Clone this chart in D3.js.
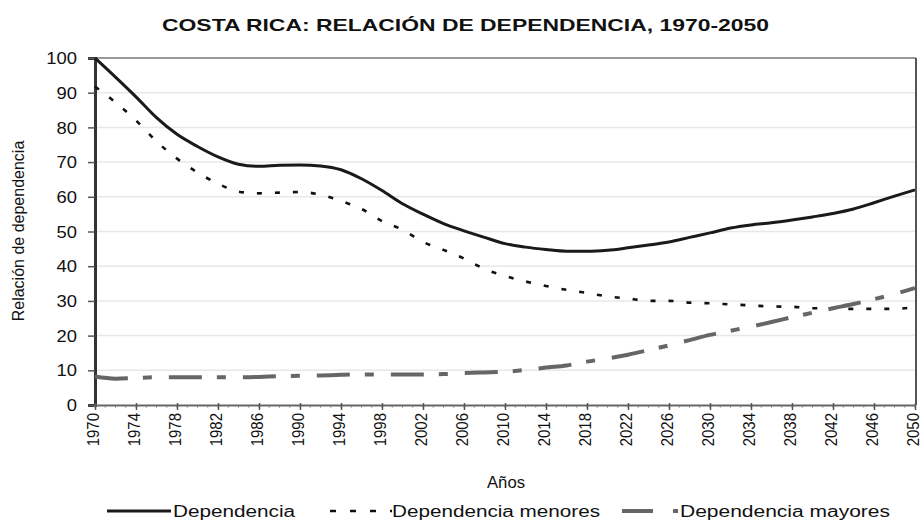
<!DOCTYPE html>
<html>
<head>
<meta charset="utf-8">
<script src="https://cdn.jsdelivr.net/npm/d3@7"></script>
<style>
  body { margin: 0; background: #fff; }
  svg text { font-family: "Liberation Sans", Arial, sans-serif; fill: #111; }
</style>
</head>
<body>
<svg id="chart" width="922" height="531"></svg>
<script>
// años cada 2, 1970-2050
const years = d3.range(1970, 2051, 2)

const dependencia = [100, 94.5, 88.8, 82.8, 78, 74.5, 71.5, 69.4, 68.8, 69.1,
  69.2, 68.9, 67.8, 65.2, 61.8, 58, 55, 52.3, 50.2, 48.3,
  46.5, 45.5, 44.8, 44.3, 44.3, 44.6, 45.3, 46.1, 47, 48.3,
  49.6, 51, 51.9, 52.5, 53.3, 54.2, 55.2, 56.5, 58.3, 60.2, 62]

const menores = [91.8, 87.2, 82, 76, 71, 67, 63.8, 61.5, 61, 61.2,
  61.4, 60.6, 58.8, 56.5, 53, 50.5, 47, 44.7, 42.2, 39.2,
  37.2, 35.6, 34.3, 33.2, 32.3, 31.3, 30.7, 30, 30, 29.5,
  29.3, 29, 28.7, 28.4, 28.3, 27.9, 27.8, 27.7, 27.7, 27.7, 28.2]

const mayores = [8.2, 7.6, 7.8, 8, 8, 8, 8, 8, 8.1, 8.3,
  8.4, 8.5, 8.7, 8.8, 8.8, 8.8, 8.8, 8.9, 9.2, 9.4,
  9.6, 10.1, 10.8, 11.4, 12.5, 13.4, 14.5, 15.8, 17.2, 18.7,
  20.2, 21.4, 22.6, 23.9, 25.3, 26.6, 27.9, 29.1, 30.5, 32, 33.7]

const yTicks = d3.range(0, 101, 10)
const xTicks = d3.range(1970, 2051, 4)

const series = [
  { name: "Dependencia", values: dependencia, color: "#1a1a1a", width: 3, dash: null, lenLabel: 122 },
  { name: "Dependencia menores", values: menores, color: "#111", width: 2.6, dash: "5,13", lenLabel: 208 },
  { name: "Dependencia mayores", values: mayores, color: "#666", width: 4, dash: "33,15,9,17", lenLabel: 210 }
]

const svg = d3.select("#chart")
const plotL = 95, plotR = 915, plotT = 58, plotB = 405
const sx = 1.15   // la imagen original está estirada en horizontal

const x = d3.scaleLinear().domain([1970, 2050]).range([plotL, plotR])
const y = d3.scaleLinear().domain([0, 100]).range([plotB, plotT])

// título
svg.append("text")
   .attr("x", 162).attr("y", 31)
   .attr("font-size", 17).attr("font-weight", "bold")
   .attr("textLength", 607).attr("lengthAdjust", "spacingAndGlyphs")
   .text("COSTA RICA: RELACIÓN DE DEPENDENCIA, 1970-2050")

// rejilla
svg.append("g").selectAll("line")
   .data(yTicks.filter(d => d > 0 && d < 100))
   .join("line")
   .attr("x1", plotL).attr("x2", plotR)
   .attr("y1", d => y(d)).attr("y2", d => y(d))
   .attr("stroke", "#e8e8e8").attr("stroke-width", 1.5)

// marco superior y derecho
svg.append("line").attr("x1", plotL).attr("x2", plotR + 1).attr("y1", plotT).attr("y2", plotT)
   .attr("stroke", "#777").attr("stroke-width", 1.5)
svg.append("line").attr("x1", plotR + 1).attr("x2", plotR + 1).attr("y1", plotT).attr("y2", plotB)
   .attr("stroke", "#555").attr("stroke-width", 2)

// eje y
const yAxis = svg.append("g")
   .attr("transform", "translate(" + plotL + ",0)")
   .call(d3.axisLeft(y).tickValues(yTicks).tickSize(7).tickPadding(0))
yAxis.select(".domain").attr("stroke", "#333").attr("stroke-width", 3)
yAxis.selectAll(".tick line").attr("stroke", "#555").attr("stroke-width", 1.5)
yAxis.selectAll(".tick text")
     .attr("font-size", 16).attr("fill", "#111")
     .attr("x", 0).attr("dy", "0.35em")
     .attr("transform", "translate(-18,0) scale(" + sx + ",1)")

// eje x: marcas menores cada año
svg.append("g").selectAll("line")
   .data(d3.range(1970, 2051))
   .join("line")
   .attr("x1", d => x(d)).attr("x2", d => x(d))
   .attr("y1", plotB).attr("y2", plotB + 3)
   .attr("stroke", "#aaa").attr("stroke-width", 1)

const xAxis = svg.append("g")
   .attr("transform", "translate(0," + plotB + ")")
   .call(d3.axisBottom(x).tickValues(xTicks).tickFormat(d3.format("d")).tickSizeInner(5).tickSizeOuter(0))
xAxis.select(".domain").attr("stroke", "#666").attr("stroke-width", 2)
xAxis.selectAll(".tick line").attr("stroke", "#555").attr("stroke-width", 1.5).attr("y1", -2)
xAxis.selectAll(".tick text")
     .attr("font-size", 15).attr("fill", "#111")
     .attr("x", 0).attr("y", 0).attr("dy", "0.3em")
     .attr("text-anchor", "end")
     .attr("transform", "translate(-1,8) scale(1.1,1) rotate(-90)")

// líneas
const line = d3.line()
   .x((d, i) => x(years[i]))
   .y(d => y(d))
   .curve(d3.curveMonotoneX)

series.forEach(s => {
  svg.append("path")
     .datum(s.values)
     .attr("d", line)
     .attr("fill", "none")
     .attr("stroke", s.color)
     .attr("stroke-width", s.width)
     .attr("stroke-dasharray", s.dash)
     .attr("stroke-linejoin", "round")
})

// títulos de ejes
svg.append("text")
   .attr("x", 487).attr("y", 488)
   .attr("font-size", 16)
   .attr("textLength", 38).attr("lengthAdjust", "spacingAndGlyphs")
   .text("Años")

svg.append("text")
   .attr("transform", "translate(24,231) rotate(-90)")
   .attr("text-anchor", "middle")
   .attr("font-size", 16)
   .text("Relación de dependencia")

// leyenda
const legendY = 511
const legendItems = [
  { s: series[0], x1: 107, x2: 171, tx: 173, dash: null, w: 3 },
  { s: series[1], x1: 330, x2: 392, tx: 392, dash: "6,14", w: 2.6 },
  { s: series[2], x1: 622, x2: 681, tx: 680, dash: "31,20,5", w: 4 }
]
legendItems.forEach(it => {
  svg.append("line")
     .attr("x1", it.x1).attr("x2", it.x2)
     .attr("y1", legendY).attr("y2", legendY)
     .attr("stroke", it.s.color).attr("stroke-width", it.w)
     .attr("stroke-dasharray", it.dash)
  svg.append("text")
     .attr("x", it.tx).attr("y", legendY + 6)
     .attr("font-size", 16)
     .attr("textLength", it.s.lenLabel).attr("lengthAdjust", "spacingAndGlyphs")
     .text(it.s.name)
})
</script>
</body>
</html>
